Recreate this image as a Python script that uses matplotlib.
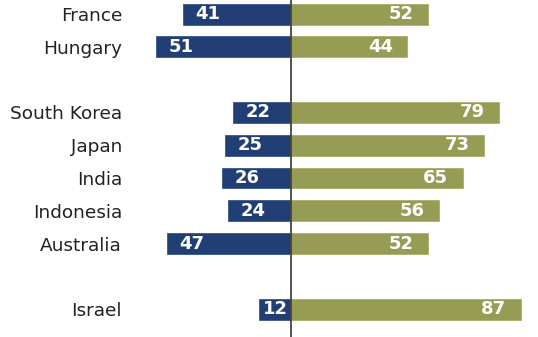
import matplotlib

matplotlib.use("Agg")
import matplotlib.pyplot as plt
import numpy as np

countries = ["France", "Hungary", "South Korea", "Japan", "India",
             "Indonesia", "Australia", "Israel"]
left_vals = [41, 51, 22, 25, 26, 24, 47, 12]
right_vals = [52, 44, 79, 73, 65, 56, 52, 87]
# row slots, with blank rows between the country groups
slots = [0, 1, 3, 4, 5, 6, 7, 9]

BLUE = "#213f74"
GREEN = "#979c55"

fig = plt.figure(figsize=(5.38, 3.37), dpi=100)
ax = fig.add_axes([129 / 538, 0, 1 - 129 / 538, 1])

y = np.array(slots)
lv = np.array(left_vals)
rv = np.array(right_vals)

ax.barh(y, -lv, height=0.64, color=BLUE, edgecolor="#3a5688", linewidth=0.6)
ax.barh(y, rv, height=0.64, color=GREEN, edgecolor="#a9ad6a", linewidth=0.6)
ax.axvline(0, color="#444444", linewidth=1.3, zorder=3)

for yi, l, r in zip(y, lv, rv):
    # near the outer end of the bar, centred when the bar is short
    cx = min(-l + 9.5, -l / 2)
    ax.text(cx, yi, str(l), ha="center", va="center", color="white",
            fontsize=13, fontweight="bold")
    ax.text(r - 5.4, yi, str(r), ha="right", va="center", color="white",
            fontsize=13, fontweight="bold")

ax.set_xlim(-61.4, 93.6)
ax.set_ylim(9.85, -0.43)
ax.set_yticks(y)
ax.set_yticklabels(countries, fontsize=13.3, color="#222222")
ax.tick_params(axis="y", length=0, pad=5)
ax.set_xticks([])
for s in ax.spines.values():
    s.set_visible(False)

fig.savefig("out.png", dpi=100)
